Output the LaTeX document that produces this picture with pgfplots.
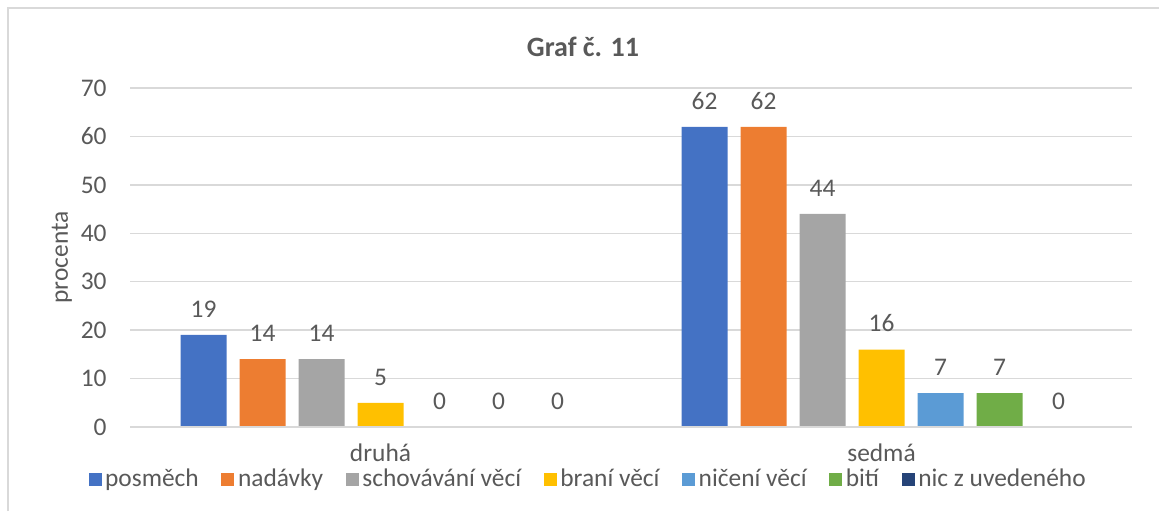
\documentclass[border=0pt]{standalone}
\usepackage{pgfplots}
\pgfplotsset{compat=1.18}
\usepackage{fontspec}
\setmainfont{Carlito}
\definecolor{c1}{HTML}{4472C4}
\definecolor{c2}{HTML}{ED7D31}
\definecolor{c3}{HTML}{A5A5A5}
\definecolor{c4}{HTML}{FFC000}
\definecolor{c5}{HTML}{5B9BD5}
\definecolor{c6}{HTML}{70AD47}
\definecolor{c7}{HTML}{264478}
\definecolor{txt}{HTML}{595959}
\definecolor{gridc}{HTML}{D9D9D9}
\pgfplotsset{sqlegend/.style={legend image code/.code={\fill[##1] (0pt,-3.25pt) rectangle (6.5pt,3.25pt);}}}
\newcommand\fs{\fontsize{12.7}{15}\selectfont}
\begin{document}
\begin{tikzpicture}
\useasboundingbox (0pt,0pt) rectangle (579.5pt,255.5pt);
\draw[gridc, line width=0.9pt] (4pt,0pt) -- (4pt,251.5pt) -- (579.5pt,251.5pt);
\node[font=\bfseries\fontsize{14}{16}\selectfont, text=txt] at (291.5pt,232pt) {Graf č. 11};
\begin{axis}[at={(65pt,42pt)}, anchor=south west, scale only axis,
  width=501pt, height=169.5pt,
  ybar=6.5pt, bar width=23pt,
  every axis plot/.append style={sqlegend, draw=none},
  xmin=-0.5, xmax=1.5, ymin=0, ymax=70, ytick={0,10,...,70},
  xtick={0,1}, xticklabels={druhá,sedmá},
  axis line style={draw=none}, major tick length=0pt,
  ymajorgrids, grid style={gridc, line width=0.75pt},
  /pgf/number format/assume math mode=true,
  tick label style={font=\fs, text=txt},
  yticklabel style={inner sep=0pt, xshift=-11.5pt, anchor=east},
  xticklabel style={inner sep=0pt, anchor=center, yshift=-13pt},
  ylabel={procenta},
  ylabel style={at={(axis description cs:-0.0679,0.5)}, anchor=center, font=\fs, text=txt},
  nodes near coords,
  every node near coord/.append style={font=\fs, text=txt, inner sep=0pt, anchor=south, yshift=8.5pt},
  legend columns=7,
  legend style={at={(0.458,-0.155)}, anchor=center, draw=none, fill=none,
    font=\fs, text=txt,
    nodes={inner sep=1.8pt},
    /tikz/every even column/.append style={column sep=9.5pt}},
]
\addplot[fill=c1] coordinates {(0,19) (1,62)};
\addplot[fill=c2] coordinates {(0,14) (1,62)};
\addplot[fill=c3] coordinates {(0,14) (1,44)};
\addplot[fill=c4] coordinates {(0,5) (1,16)};
\addplot[fill=c5] coordinates {(0,0) (1,7)};
\addplot[fill=c6] coordinates {(0,0) (1,7)};
\addplot[fill=c7] coordinates {(0,0) (1,0)};
\draw[gridc, line width=0.75pt] (rel axis cs:0,0) -- (rel axis cs:1,0);
\legend{posměch,nadávky,schovávání věcí,braní věcí,ničení věcí,bití,nic z uvedeného}
\end{axis}
\end{tikzpicture}
\end{document}
